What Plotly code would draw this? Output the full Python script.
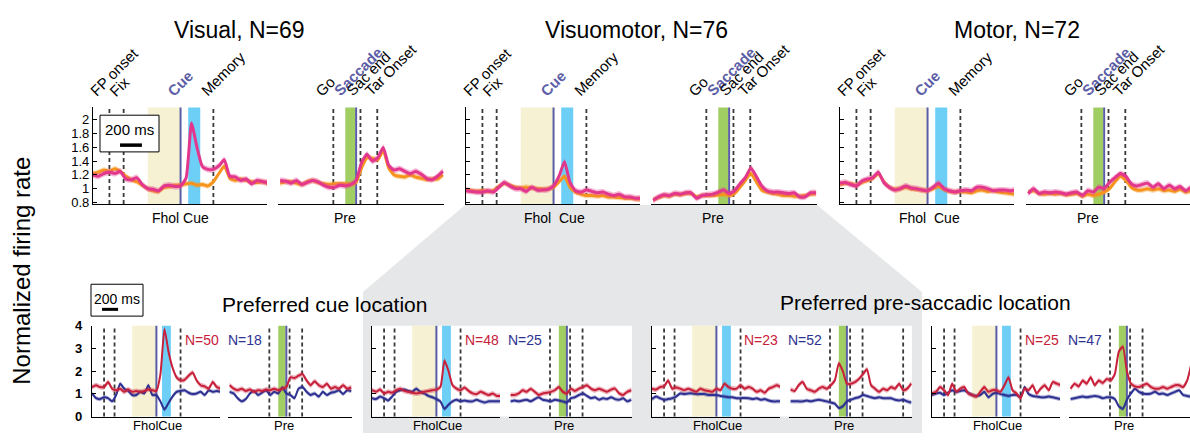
import plotly.graph_objects as go

# ---------------- data ----------------
T_CUE = [-800, -750, -700, -650, -600, -550, -500, -450, -400, -350, -300, -250, -200, -150, -100, -50,
         0, 50, 100, 150, 200, 250, 300, 350, 400, 450, 500, 550, 600, 650, 700, 750, 800]
T_SAC = [-700, -650, -600, -550, -500, -450, -400, -350, -300, -250, -200, -150, -100, -50,
         0, 50, 100, 150, 200, 250, 300, 350, 400, 450, 500, 550, 600, 650, 700, 750, 800]

# top row: Visual / Visuomotor / Motor (pink and orange conditions)
VIS_CUE_PINK = [1.20, 1.18, 1.22, 1.24, 1.22, 1.25, 1.14, 1.13, 1.16, 1.06, 1.00, 0.99, 0.97, 1.04, 1.05, 1.03, 1.04, 1.15, 1.95, 1.60, 1.32, 1.28, 1.28, 1.33, 1.42, 1.18, 1.17, 1.12, 1.14, 1.07, 1.12, 1.10, 1.09]
VIS_CUE_ORANGE = [1.22, 1.24, 1.27, 1.25, 1.29, 1.25, 1.18, 1.13, 1.10, 1.05, 1.00, 0.97, 0.96, 1.02, 1.03, 1.05, 1.05, 1.07, 1.08, 1.05, 1.06, 1.04, 1.10, 1.22, 1.33, 1.15, 1.12, 1.14, 1.12, 1.10, 1.09, 1.10, 1.07]
VIS_SAC_PINK = [1.12, 1.11, 1.08, 1.12, 1.06, 1.09, 1.12, 1.10, 1.05, 1.02, 1.02, 1.05, 1.04, 1.06, 1.12, 1.38, 1.50, 1.40, 1.45, 1.60, 1.34, 1.27, 1.29, 1.25, 1.22, 1.25, 1.21, 1.15, 1.13, 1.18, 1.25]
VIS_SAC_ORANGE = [1.08, 1.10, 1.10, 1.08, 1.06, 1.10, 1.12, 1.09, 1.07, 1.06, 1.07, 1.07, 1.07, 1.06, 1.09, 1.30, 1.45, 1.44, 1.42, 1.55, 1.30, 1.20, 1.18, 1.17, 1.20, 1.17, 1.15, 1.13, 1.14, 1.14, 1.20]

VM_CUE_PINK = [0.97, 0.96, 0.95, 0.95, 0.97, 0.95, 1.02, 1.09, 1.04, 1.00, 1.00, 0.96, 1.02, 0.98, 0.98, 0.99, 1.04, 1.18, 1.39, 1.09, 0.97, 0.95, 0.98, 0.96, 0.94, 0.95, 0.92, 0.90, 0.92, 0.88, 0.88, 0.86, 0.86]
VM_CUE_ORANGE = [0.98, 0.97, 0.96, 0.97, 0.96, 0.97, 1.03, 1.08, 1.05, 1.02, 1.01, 1.02, 1.01, 1.00, 0.99, 1.00, 1.02, 1.10, 1.18, 1.02, 0.95, 0.92, 0.90, 0.90, 0.89, 0.90, 0.88, 0.88, 0.87, 0.86, 0.86, 0.85, 0.85]
VM_SAC_PINK = [0.83, 0.88, 0.91, 0.90, 0.93, 0.92, 0.94, 0.94, 0.86, 0.90, 0.91, 0.92, 0.95, 0.98, 0.93, 0.97, 1.07, 1.16, 1.30, 1.18, 1.04, 0.97, 0.95, 0.95, 0.94, 0.93, 0.94, 0.88, 0.88, 0.94, 0.94]
VM_SAC_ORANGE = [0.84, 0.87, 0.90, 0.89, 0.92, 0.91, 0.93, 0.93, 0.88, 0.90, 0.90, 0.90, 0.91, 0.92, 0.90, 0.93, 1.02, 1.12, 1.22, 1.10, 0.98, 0.95, 0.93, 0.92, 0.90, 0.90, 0.89, 0.89, 0.90, 0.92, 0.93]

MOT_CUE_PINK = [1.08, 1.09, 1.06, 1.04, 1.11, 1.14, 1.16, 1.24, 1.09, 1.02, 0.98, 1.00, 1.04, 1.01, 1.00, 0.98, 0.97, 1.02, 1.08, 1.00, 0.97, 0.95, 0.97, 0.98, 0.97, 1.02, 1.02, 1.00, 0.97, 0.98, 0.98, 0.97, 0.98]
MOT_CUE_ORANGE = [1.06, 1.08, 1.07, 1.05, 1.09, 1.12, 1.15, 1.22, 1.10, 1.02, 0.99, 1.00, 1.02, 1.00, 0.99, 0.98, 0.97, 1.00, 1.03, 0.99, 0.96, 0.95, 0.96, 0.95, 0.94, 0.97, 0.98, 0.96, 0.97, 0.95, 0.94, 0.93, 0.92]
MOT_SAC_PINK = [0.93, 1.00, 0.93, 0.95, 0.94, 0.95, 0.94, 0.92, 0.94, 0.95, 0.90, 0.97, 0.95, 1.02, 1.00, 1.09, 1.16, 1.22, 1.18, 1.07, 1.04, 1.06, 1.08, 1.02, 1.07, 1.00, 1.05, 1.00, 1.03, 0.97, 1.02]
MOT_SAC_ORANGE = [0.95, 0.97, 0.93, 0.92, 0.93, 0.92, 0.93, 0.91, 0.92, 0.93, 0.89, 0.92, 0.90, 0.92, 0.95, 1.00, 1.10, 1.18, 1.12, 1.02, 0.98, 0.98, 1.00, 0.98, 1.00, 0.97, 0.98, 0.96, 0.99, 0.95, 0.97]

# bottom row: four groups (red and blue populations)
G1_CUE_RED = [1.30, 1.38, 1.30, 1.30, 1.52, 1.23, 1.16, 1.23, 1.09, 1.19, 1.09, 1.13, 1.09, 1.13, 1.19, 1.16, 1.13, 1.87, 3.86, 2.87, 2.16, 1.73, 1.59, 1.62, 1.80, 1.94, 1.59, 1.38, 1.33, 1.23, 1.52, 1.30, 1.23]
G1_CUE_BLUE = [1.02, 0.81, 0.77, 0.85, 0.81, 0.67, 0.95, 1.45, 1.23, 1.13, 0.95, 0.95, 1.09, 1.02, 1.38, 0.95, 0.95, 0.67, 0.31, 0.60, 0.88, 1.09, 1.13, 1.16, 1.05, 0.99, 1.02, 1.09, 0.95, 1.16, 1.09, 1.13, 1.09]
G1_SAC_RED = [1.38, 1.23, 1.16, 1.23, 1.13, 1.19, 1.09, 1.16, 1.13, 1.19, 1.16, 1.23, 1.16, 1.23, 1.30, 1.73, 1.70, 1.80, 1.87, 1.59, 1.38, 1.56, 1.38, 1.30, 1.45, 1.23, 1.30, 1.23, 1.38, 1.23, 1.28]
G1_SAC_BLUE = [1.09, 1.02, 0.81, 0.67, 0.77, 1.02, 1.13, 0.95, 1.05, 1.16, 0.95, 1.09, 1.02, 1.28, 1.02, 0.95, 0.81, 1.23, 1.30, 1.09, 0.95, 1.02, 0.88, 1.09, 0.95, 1.05, 1.09, 1.16, 0.99, 1.16, 1.13]

G2_CUE_RED = [1.16, 1.09, 1.19, 1.02, 1.09, 1.05, 1.16, 1.23, 1.13, 1.09, 1.05, 1.02, 1.05, 1.09, 1.13, 1.16, 1.19, 1.30, 2.47, 2.01, 1.38, 1.23, 1.16, 1.28, 1.13, 1.02, 0.99, 1.09, 1.02, 0.95, 1.02, 0.91, 0.91]
G2_CUE_BLUE = [0.81, 0.77, 0.88, 0.81, 0.71, 0.88, 1.09, 1.16, 1.19, 1.13, 1.09, 1.23, 1.09, 1.02, 0.91, 0.85, 0.77, 0.67, 0.34, 0.52, 0.67, 0.74, 0.67, 0.71, 0.67, 0.67, 0.74, 0.67, 0.62, 0.67, 0.67, 0.67, 0.67]
G2_SAC_RED = [0.95, 0.95, 1.02, 1.16, 1.09, 1.23, 1.09, 0.95, 1.02, 1.05, 1.09, 1.16, 1.30, 1.09, 1.02, 1.23, 1.13, 1.23, 1.30, 1.38, 1.23, 1.16, 1.23, 1.16, 1.09, 1.19, 1.23, 1.02, 0.95, 1.09, 1.16]
G2_SAC_BLUE = [0.67, 0.71, 0.67, 0.71, 0.74, 0.67, 0.77, 0.85, 0.74, 0.71, 0.67, 0.74, 0.71, 0.67, 0.62, 0.81, 0.85, 0.95, 1.02, 0.91, 0.81, 0.85, 0.74, 0.81, 0.77, 0.85, 0.77, 0.74, 0.81, 0.67, 0.74]

G3_CUE_RED = [1.23, 1.19, 1.30, 1.33, 1.59, 1.23, 1.28, 1.23, 1.16, 1.23, 1.16, 1.09, 1.23, 1.16, 1.13, 1.09, 1.23, 1.16, 1.45, 1.30, 1.23, 1.23, 1.38, 1.23, 1.30, 1.23, 1.09, 1.16, 1.05, 1.23, 1.30, 1.38, 1.30]
G3_CUE_BLUE = [0.77, 0.88, 0.81, 0.74, 0.77, 0.81, 0.88, 1.02, 0.99, 1.02, 1.02, 0.99, 0.99, 0.99, 0.95, 0.95, 0.95, 0.91, 0.88, 0.85, 0.85, 0.81, 0.81, 0.82, 0.81, 0.77, 0.81, 0.74, 0.77, 0.71, 0.67, 0.67, 0.67]
G3_SAC_RED = [1.19, 1.13, 1.38, 1.52, 1.23, 1.16, 1.09, 1.23, 1.30, 1.23, 1.38, 1.59, 2.35, 2.00, 1.45, 1.45, 1.52, 1.66, 1.87, 2.09, 1.38, 1.23, 1.09, 1.23, 1.16, 1.30, 1.23, 1.45, 1.16, 1.23, 1.45]
G3_SAC_BLUE = [0.67, 0.67, 0.67, 0.67, 0.71, 0.67, 0.71, 0.74, 0.71, 0.67, 0.62, 0.57, 0.38, 0.45, 0.67, 0.74, 0.81, 0.85, 0.95, 0.91, 0.85, 0.81, 0.85, 0.81, 0.81, 0.81, 0.74, 0.71, 0.74, 0.67, 0.62]

G4_CUE_RED = [1.02, 1.09, 1.30, 1.16, 0.95, 1.45, 1.09, 1.23, 1.30, 1.02, 0.95, 0.88, 1.09, 1.30, 1.09, 1.16, 1.16, 1.09, 1.38, 1.73, 1.16, 1.02, 0.81, 1.23, 1.16, 1.38, 1.02, 1.23, 1.38, 1.16, 1.52, 1.45, 1.38]
G4_CUE_BLUE = [0.95, 1.02, 1.05, 0.95, 1.05, 1.16, 1.09, 1.13, 1.16, 1.05, 0.95, 0.91, 0.95, 1.09, 0.85, 0.99, 1.05, 0.99, 0.95, 0.91, 0.95, 0.95, 0.85, 1.30, 0.99, 0.91, 0.88, 0.85, 0.85, 0.88, 0.85, 0.81, 0.77]
G4_SAC_RED = [1.23, 1.45, 1.33, 1.59, 1.45, 1.73, 1.38, 1.59, 1.48, 1.66, 1.59, 1.87, 2.87, 3.08, 2.01, 1.45, 1.33, 1.30, 1.38, 1.45, 1.30, 1.23, 1.23, 1.30, 1.23, 1.30, 1.38, 1.38, 1.30, 1.59, 2.30]
G4_SAC_BLUE = [0.77, 0.81, 0.85, 0.88, 0.85, 0.88, 0.91, 0.88, 0.81, 0.85, 0.85, 0.77, 0.45, 0.34, 0.74, 1.02, 1.23, 1.09, 1.02, 0.99, 1.02, 1.09, 0.99, 1.02, 0.95, 1.02, 1.09, 1.16, 0.95, 0.91, 0.88]

# standard errors (band half widths)
SEM_PINK, SEM_ORANGE = 0.045, 0.04
SEM_RED, SEM_BLUE = 0.11, 0.09

# event times (ms)
CUE_DASHED = [-650, -520, 300]
SAC_DASHED = [-210, 40, 195]
CUE_WINDOW = [70, 180]
FIX_WINDOW = [-300, 0]
SAC_WINDOW = [-100, -10]

TOP_TICKS = [0.8, 1.0, 1.2, 1.4, 1.6, 1.8, 2.0]
TOP_TICKTEXT = ["0.8", "1", "1.2", "1.4", "1.6", "1.8", "2"]
BOT_TICKS = [0, 1, 2, 3, 4]

TITLES = ["Visual, N=69", "Visuomotor, N=76", "Motor, N=72"]
SUBTITLES = ["Preferred cue location", "Preferred pre-saccadic location"]
N_LABELS = [("N=50", "N=18"), ("N=48", "N=25"), ("N=23", "N=52"), ("N=25", "N=47")]
CUE_LABELS = ["FP onset", "Fix", "Cue", "Memory"]
SAC_LABELS = ["Go", "Saccade", "Sac end", "Tar Onset"]

# ---------------- styling / layout ----------------
W, H = 1190, 441


def px(v):
    return v / W


def py(v):
    return 1 - v / H


FONT = "Arial, Liberation Sans, Helvetica, sans-serif"
PINK, ORANGE = "#e2378d", "#f7941d"
RED, NAVY = "#c8203a", "#2e3192"
PINK_F, ORANGE_F = "rgba(226,55,141,0.35)", "rgba(247,148,29,0.35)"
RED_F, NAVY_F = "rgba(200,32,58,0.35)", "rgba(46,49,146,0.35)"
YELLOW, CYAN, GREEN = "#f6f1d3", "#6dcff6", "#a1ce63"
PURPLE = "#5b5ea6"
DASH_C = "#3a3a3a"
GRAY = "#e6e7e8"

TOP_Y = (104, 204)
BOT_Y = (330, 424)
TOP_YRANGE = [0.776, 2.18]
BOT_YRANGE = [0, 4]

PANELS = [
    dict(kind="cue", x=(93, 267), row="top", xmax=790, labels=True, s=(VIS_CUE_ORANGE, VIS_CUE_PINK)),
    dict(kind="sac", x=(278, 444), row="top", xmax=810, labels=False, s=(VIS_SAC_ORANGE, VIS_SAC_PINK)),
    dict(kind="cue", x=(466, 640), row="top", xmax=790, labels=False, s=(VM_CUE_ORANGE, VM_CUE_PINK)),
    dict(kind="sac", x=(651, 817), row="top", xmax=810, labels=False, s=(VM_SAC_ORANGE, VM_SAC_PINK)),
    dict(kind="cue", x=(840, 1014), row="top", xmax=790, labels=False, s=(MOT_CUE_ORANGE, MOT_CUE_PINK)),
    dict(kind="sac", x=(1026, 1190), row="top", xmax=791, labels=False, s=(MOT_SAC_ORANGE, MOT_SAC_PINK)),
    dict(kind="cue", x=(92, 220), row="bot", xmax=790, labels=True, s=(G1_CUE_BLUE, G1_CUE_RED)),
    dict(kind="sac", x=(228, 352), row="bot", xmax=810, labels=False, s=(G1_SAC_BLUE, G1_SAC_RED)),
    dict(kind="cue", x=(372, 500), row="bot", xmax=790, labels=False, s=(G2_CUE_BLUE, G2_CUE_RED)),
    dict(kind="sac", x=(509, 632), row="bot", xmax=810, labels=False, s=(G2_SAC_BLUE, G2_SAC_RED)),
    dict(kind="cue", x=(652, 780), row="bot", xmax=790, labels=False, s=(G3_CUE_BLUE, G3_CUE_RED)),
    dict(kind="sac", x=(789, 912), row="bot", xmax=810, labels=False, s=(G3_SAC_BLUE, G3_SAC_RED), extra=[700]),
    dict(kind="cue", x=(932, 1060), row="bot", xmax=790, labels=False, s=(G4_CUE_BLUE, G4_CUE_RED)),
    dict(kind="sac", x=(1069, 1190), row="bot", xmax=785, labels=False, s=(G4_SAC_BLUE, G4_SAC_RED)),
]

fig = go.Figure()
layout = {}
shapes = []
annotations = []

# grey connecting trapezoid + white plot backgrounds inside it
shapes.append(dict(type="path", xref="paper", yref="paper", layer="below", fillcolor=GRAY, line=dict(width=0),
                   path=f"M {px(465)} {py(205)} L {px(817)} {py(205)} L {px(922)} {py(295)} L {px(922)} {py(441)} "
                        f"L {px(363)} {py(441)} L {px(363)} {py(295)} Z"))
for (a, b) in [(372, 632), (652, 912)]:
    shapes.append(dict(type="rect", xref="paper", yref="paper", layer="below", x0=px(a), x1=px(b),
                       y0=py(BOT_Y[1]), y1=py(BOT_Y[0]), fillcolor="white", line=dict(width=0)))


def ann(text, x, y, size, color="black", **kw):
    d = dict(text=text, x=px(x), y=py(y), xref="paper", yref="paper", showarrow=False,
             font=dict(family=FONT, size=size, color=color), xanchor="center", yanchor="middle")
    d.update(kw)
    annotations.append(d)


for i, p in enumerate(PANELS, start=1):
    sfx = "" if i == 1 else str(i)
    xa, ya = "x" + sfx, "y" + sfx
    top = p["row"] == "top"
    cue = p["kind"] == "cue"
    ytop, ybot = TOP_Y if top else BOT_Y
    t = T_CUE if cue else T_SAC
    xr = [-800, p["xmax"]] if cue else [-720, p["xmax"]]
    layout["xaxis" + sfx] = dict(domain=[px(p["x"][0]), px(p["x"][1])], range=xr, anchor=ya,
                                 showline=True, linecolor="black", linewidth=1.3, ticks="",
                                 showticklabels=False, showgrid=False, zeroline=False, fixedrange=True)
    ydict = dict(domain=[py(ybot), py(ytop)], range=TOP_YRANGE if top else BOT_YRANGE, anchor=xa,
                 showgrid=False, zeroline=False, fixedrange=True, showline=cue, linecolor="black", linewidth=1.3,
                 ticks="inside" if cue else "", ticklen=4, tickcolor="black",
                 tickvals=TOP_TICKS if top else BOT_TICKS, showticklabels=p["labels"])
    if top:
        ydict.update(ticktext=TOP_TICKTEXT, tickfont=dict(family=FONT, size=13, color="black"))
    else:
        ydict.update(tickfont=dict(family=FONT, size=13, color="black", weight="bold"), ticklabelstandoff=6)
    layout["yaxis" + sfx] = ydict

    # shaded windows and event lines
    def vrect(a, b, col):
        shapes.append(dict(type="rect", xref=xa, yref=ya + " domain", x0=a, x1=b, y0=0, y1=1,
                           fillcolor=col, line=dict(width=0), layer="below"))

    def vline(x, col, w, dash):
        shapes.append(dict(type="line", xref=xa, yref=ya + " domain", x0=x, x1=x, y0=0, y1=1,
                           line=dict(color=col, width=w, dash=dash), layer="below"))

    if cue:
        vrect(FIX_WINDOW[0], FIX_WINDOW[1], YELLOW)
        vrect(CUE_WINDOW[0], CUE_WINDOW[1], CYAN)
        for d in CUE_DASHED:
            vline(d, DASH_C, 1.8, "4px,3px")
    else:
        vrect(SAC_WINDOW[0], SAC_WINDOW[1], GREEN)
        for d in SAC_DASHED + p.get("extra", []):
            vline(d, DASH_C, 1.8, "4px,3px")
    vline(0, PURPLE, 2, "solid")

    # traces
    if top:
        styles = [(ORANGE, ORANGE_F, SEM_ORANGE), (PINK, PINK_F, SEM_PINK)]
        lw = 3
    else:
        styles = [(NAVY, NAVY_F, SEM_BLUE), (RED, RED_F, SEM_RED)]
        lw = 2
    for vals, (col, fcol, sem) in zip(p["s"], styles):
        up = [v + sem for v in vals]
        lo = [v - sem for v in vals]
        fig.add_trace(go.Scatter(x=t + t[::-1], y=up + lo[::-1], fill="toself", fillcolor=fcol,
                                 mode="lines", line=dict(width=0, shape="spline", smoothing=0.5),
                                 xaxis=xa, yaxis=ya, hoverinfo="skip", showlegend=False))
        fig.add_trace(go.Scatter(x=t, y=vals, mode="lines",
                                 line=dict(color=col, width=lw, shape="spline", smoothing=0.5),
                                 xaxis=xa, yaxis=ya, hoverinfo="skip", showlegend=False))

    # event labels (top row)
    if top:
        if cue:
            items = list(zip(CUE_LABELS, [-650, -520, 0, 300], [-12, -7, -6, -5]))
        else:
            items = list(zip(SAC_LABELS, [-210, 0, 40, 195], [-11, -15, -7, -5]))
        for txt, tx, off in items:
            special = txt in ("Cue", "Saccade")
            annotations.append(dict(text=f"<b>{txt}</b>" if special else txt, x=tx, xref=xa, y=py(97), yref="paper",
                                    showarrow=False, textangle=-45, xanchor="left", yanchor="bottom",
                                    xshift=off - 12, borderpad=0,
                                    font=dict(family=FONT, size=15, color=PURPLE if special else "black")))

# titles
ann(TITLES[0], 239, 24, 23)
ann(TITLES[1], 636, 24, 23)
ann(TITLES[2], 1017, 24, 23)
ann(SUBTITLES[0], 325, 308, 21)
ann(SUBTITLES[1], 925, 306, 21)
ann("Normalized firing rate", 22, 273, 24, textangle=-90)

# x labels under panels
for cx, txt in [(180, "Fhol Cue"), (554, "Fhol\u00a0\u00a0Cue"), (929, "Fhol\u00a0\u00a0Cue")]:
    ann(txt, cx, 218, 14)
for cx in [345, 713, 1088]:
    ann("Pre", cx, 218, 14)
for k in range(4):
    ann("FholCue", 157 + 280 * k, 433, 13)
    ann("Pre", 284 + 280 * k, 433, 13)
    ann(N_LABELS[k][0], 201.5 + 280 * k, 345, 14, color=RED)
    ann(N_LABELS[k][1], 244.5 + 280 * k, 345, 14, color=NAVY)

# scale bars
shapes.append(dict(type="rect", xref="paper", yref="paper", x0=px(100), x1=px(159), y0=py(150), y1=py(112),
                   fillcolor="white", line=dict(color="black", width=1), layer="above"))
shapes.append(dict(type="line", xref="x", yref="paper", x0=-553, x1=-353, y0=py(143), y1=py(143),
                   line=dict(color="black", width=3.5), layer="above"))
ann("200 ms", 129.5, 127, 15)
shapes.append(dict(type="rect", xref="paper", yref="paper", x0=px(91), x1=px(143), y0=py(320), y1=py(287),
                   fillcolor="white", line=dict(color="black", width=1), layer="above"))
shapes.append(dict(type="line", xref="x7", yref="paper", x0=-676, x1=-476, y0=py(313), y1=py(313),
                   line=dict(color="black", width=3), layer="above"))
ann("200 ms", 117, 302, 14)

fig.update_layout(width=W, height=H, autosize=False, margin=dict(l=0, r=0, t=0, b=0),
                  paper_bgcolor="white", plot_bgcolor="rgba(0,0,0,0)", showlegend=False,
                  font=dict(family=FONT, color="black"), shapes=shapes, annotations=annotations, **layout)

fig.write_html("out.html", config={"displayModeBar": False},
               post_script="document.body.style.margin='0';document.body.style.padding='0';"
                           "document.body.style.overflow='hidden';")
